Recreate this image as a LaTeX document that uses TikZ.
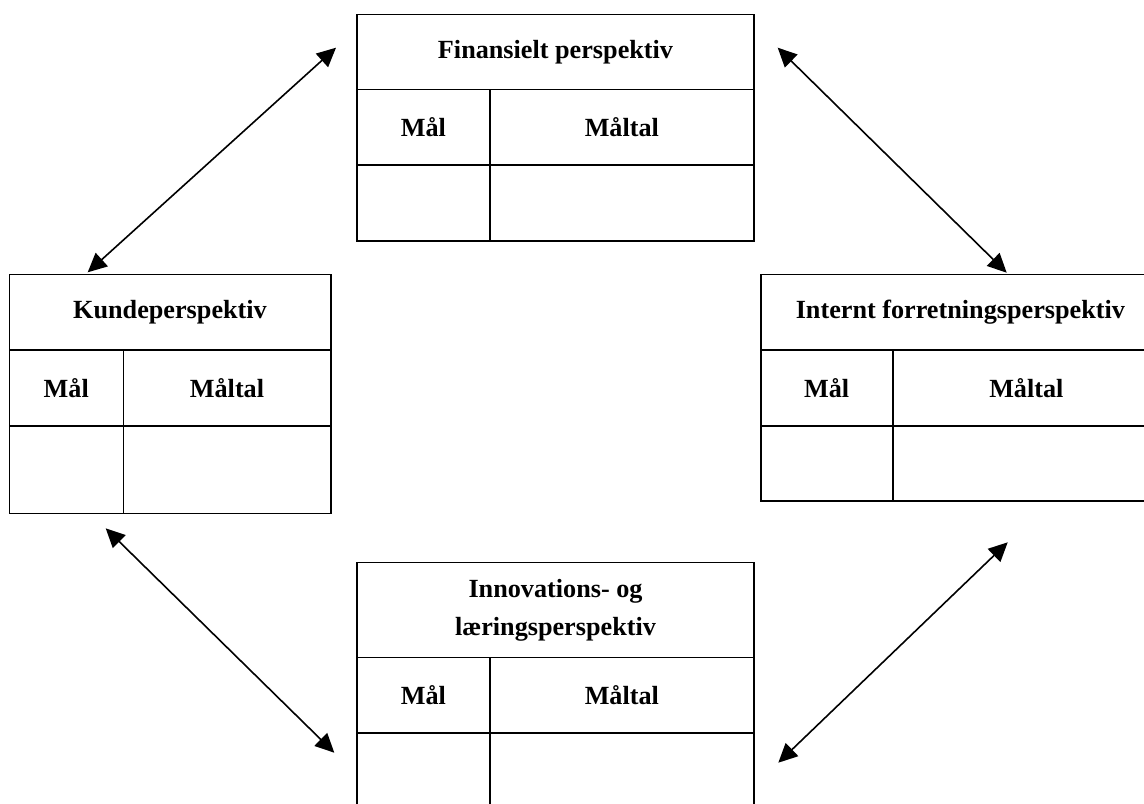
\documentclass[tikz,border=0pt]{standalone}
\usepackage{fontspec}
\setmainfont{Liberation Serif}
\usepackage{tikz}
\usetikzlibrary{arrows.meta}
\usetikzlibrary{positioning}
\tikzset{ cell/.style = {rectangle, draw, line width=0.8pt, inner sep=0pt, outer sep=0pt, align=center, anchor=north west, font=\bfseries\fontsize{13.1}{19}\selectfont} }
\tikzset{ link/.style = {line width=0.8pt, {Triangle[length=9.5pt,width=9pt]}-{Triangle[length=9.5pt,width=9pt]}} }

\begin{document}
\begin{tikzpicture}[x=0.5pt,y=-0.5pt]
        \useasboundingbox (0,0) rectangle (1144,803);
        \clip (0,0) rectangle (1144,803);
        % Finansielt perspektiv
        \node[cell, minimum width=198.5pt, minimum height=37.5pt] (fin) at (357,14.3) {Finansielt perspektiv};
        \node[cell, minimum width=66.35pt, minimum height=37.85pt] (fin_mal) at (fin.south west) {Mål};
        \node[cell, minimum width=132.15pt, minimum height=37.85pt] (fin_maltal) at (fin_mal.north east) {Måltal};
        \node[cell, minimum width=66.35pt, minimum height=37.85pt] (fin_a) at (fin_mal.south west) {};
        \node[cell, minimum width=132.15pt, minimum height=37.85pt] (fin_b) at (fin_maltal.south west) {};
        % Kundeperspektiv
        \node[cell, minimum width=160.7pt, minimum height=37.85pt] (kunde) at (9.3,274.3) {Kundeperspektiv};
        \node[cell, minimum width=57pt, minimum height=37.85pt] (kunde_mal) at (kunde.south west) {Mål};
        \node[cell, minimum width=103.7pt, minimum height=37.85pt] (kunde_maltal) at (kunde_mal.north east) {Måltal};
        \node[cell, minimum width=57pt, minimum height=43.8pt] (kunde_a) at (kunde_mal.south west) {};
        \node[cell, minimum width=103.7pt, minimum height=43.8pt] (kunde_b) at (kunde_maltal.south west) {};
        % Internt forretningsperspektiv
        \node[cell, minimum width=199.65pt, minimum height=37.85pt] (intern) at (760.7,274.3) {Internt forretningsperspektiv};
        \node[cell, minimum width=66pt, minimum height=37.85pt] (intern_mal) at (intern.south west) {Mål};
        \node[cell, minimum width=133.65pt, minimum height=37.85pt] (intern_maltal) at (intern_mal.north east) {Måltal};
        \node[cell, minimum width=66pt, minimum height=37.5pt] (intern_a) at (intern_mal.south west) {};
        \node[cell, minimum width=133.65pt, minimum height=37.5pt] (intern_b) at (intern_maltal.south west) {};
        % Innovations- og læringsperspektiv
        \node[cell, minimum width=198.5pt, minimum height=47.5pt] (innov) at (357,562.3) {Innovations- og\\læringsperspektiv};
        \node[cell, minimum width=66.35pt, minimum height=37.85pt] (innov_mal) at (innov.south west) {Mål};
        \node[cell, minimum width=132.15pt, minimum height=37.85pt] (innov_maltal) at (innov_mal.north east) {Måltal};
        \node[cell, minimum width=66.35pt, minimum height=40pt] (innov_a) at (innov_mal.south west) {};
        \node[cell, minimum width=132.15pt, minimum height=40pt] (innov_b) at (innov_maltal.south west) {};
        % arrow ends
        \coordinate (p1) at (87.7,272.3);
        \coordinate (p2) at (336,47.7);
        \coordinate (p3) at (777.7,47.7);
        \coordinate (p4) at (1006.7,272.7);
        \coordinate (p5) at (105.7,528.3);
        \coordinate (p6) at (334.3,752.7);
        \coordinate (p7) at (1007.7,542.3);
        \coordinate (p8) at (778.3,762.7);
        \draw[link] (p1) to (p2);
        \draw[link] (p3) to (p4);
        \draw[link] (p5) to (p6);
        \draw[link] (p7) to (p8);
        \end{tikzpicture}
\end{document}
